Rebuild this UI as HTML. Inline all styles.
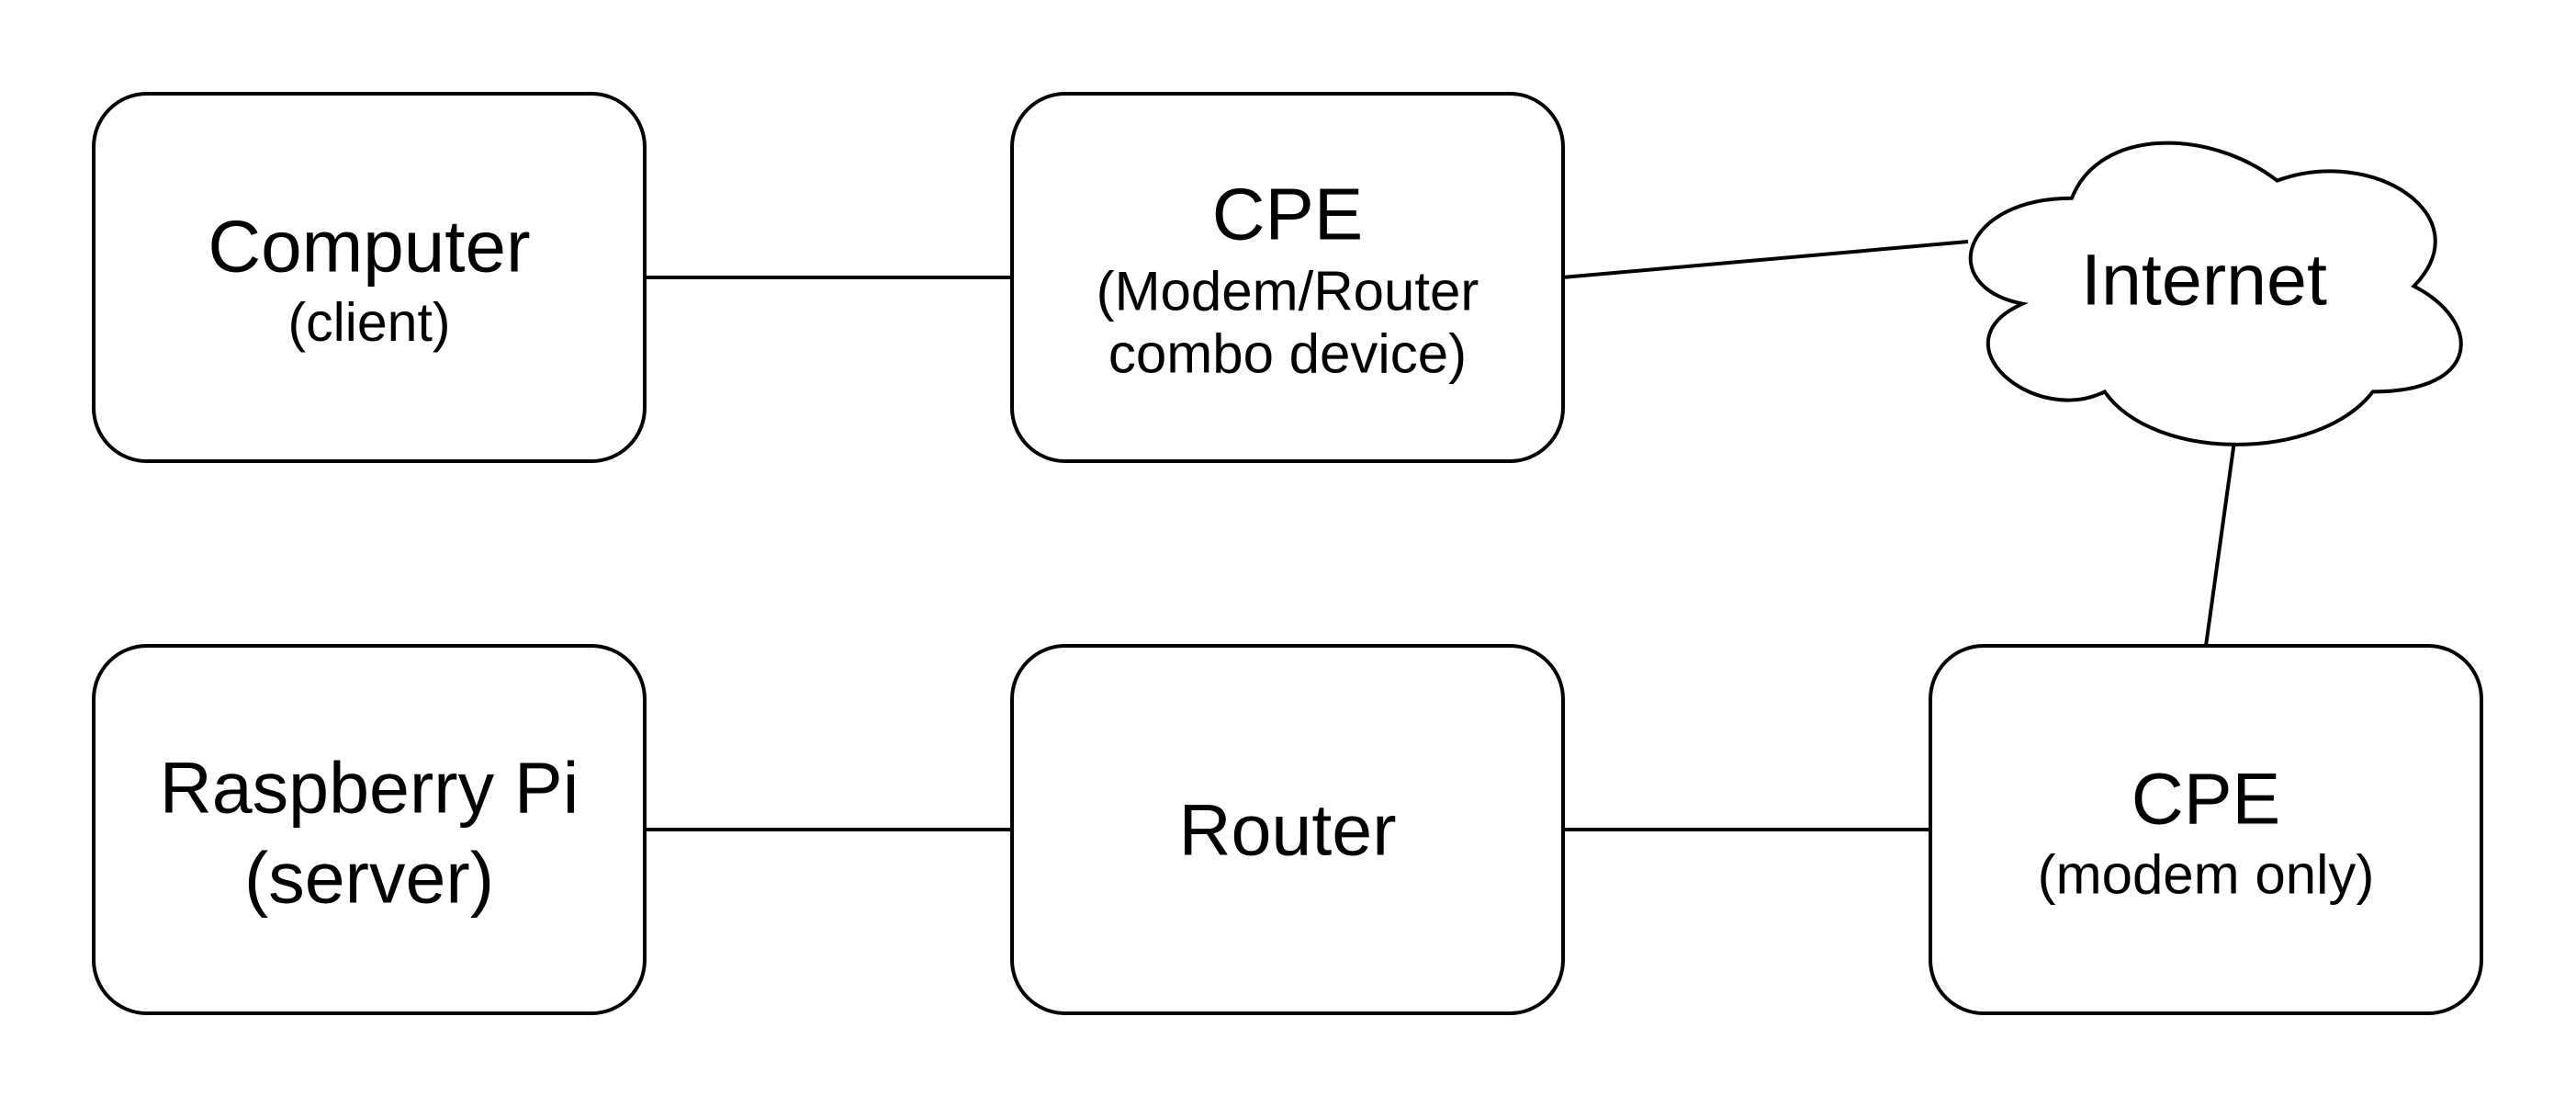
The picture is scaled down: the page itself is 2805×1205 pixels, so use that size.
<!DOCTYPE html>
<html><head><meta charset="utf-8"><style>
html,body{margin:0;padding:0;background:#fff;}
svg{display:block;}
text{font-family:"Liberation Sans",Arial,sans-serif;fill:#000;text-anchor:middle;dominant-baseline:central;}
</style></head><body>
<svg width="2805" height="1205" viewBox="0 0 2805 1205" xmlns="http://www.w3.org/2000/svg">
<g stroke="#000" stroke-width="4" fill="none">
<line x1="701" y1="302" x2="1102" y2="302"/>
<line x1="701" y1="903" x2="1102" y2="903"/>
<line x1="1701" y1="903" x2="2102" y2="903"/>
<line x1="1701" y1="302" x2="2143" y2="263"/>
<line x1="2433" y1="480" x2="2402" y2="703"/>
<rect x="102" y="102" width="600" height="400" rx="58" fill="#fff"/>
<rect x="1102" y="102" width="600" height="400" rx="58" fill="#fff"/>
<rect x="102" y="703" width="600" height="400" rx="58" fill="#fff"/>
<rect x="1102" y="703" width="600" height="400" rx="58" fill="#fff"/>
<rect x="2102" y="703" width="600" height="400" rx="58" fill="#fff"/>
<g transform="translate(2107,120) scale(596,383)">
<path vector-effect="non-scaling-stroke" fill="#fff" d="M0.25,0.25 C0.05,0.25 0,0.5 0.16,0.55 C0,0.66 0.18,0.9 0.31,0.8 C0.4,1 0.7,1 0.8,0.8 C1,0.8 1,0.6 0.875,0.5 C1,0.3 0.8,0.1 0.625,0.2 C0.5,0.05 0.3,0.05 0.25,0.25 Z"/>
</g>
</g>
<text x="402" y="268" font-size="80">Computer</text>
<text x="402" y="351" font-size="59">(client)</text>
<text x="1402" y="233" font-size="80">CPE</text>
<text x="1402" y="317" font-size="60">(Modem/Router</text>
<text x="1402" y="385" font-size="60">combo device)</text>
<text x="2400" y="304" font-size="79">Internet</text>
<text x="402" y="857" font-size="79">Raspberry Pi</text>
<text x="402" y="955" font-size="79">(server)</text>
<text x="1402" y="903" font-size="79">Router</text>
<text x="2402" y="869" font-size="79">CPE</text>
<text x="2402" y="952" font-size="60">(modem only)</text>
</svg>
</body></html>
